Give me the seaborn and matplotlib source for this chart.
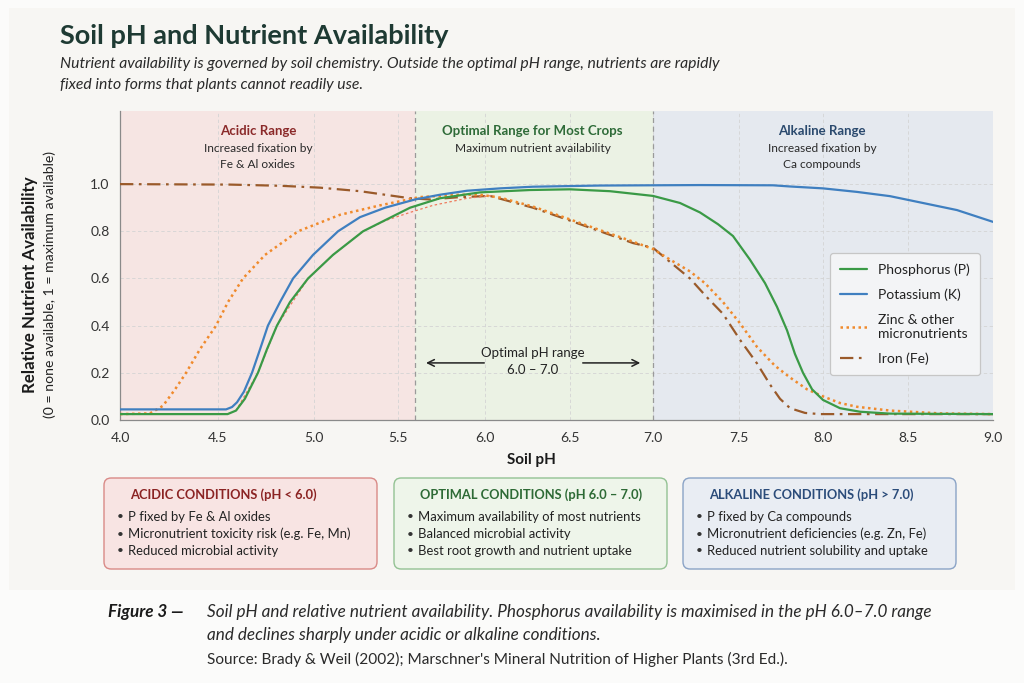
import numpy as np
import matplotlib
matplotlib.use("Agg")
import matplotlib.pyplot as plt
from matplotlib.patches import FancyBboxPatch, Rectangle
from matplotlib.lines import Line2D
import seaborn as sns

# ------------------------------------------------------------------ data
ph_ticks = [4.0, 4.5, 5.0, 5.5, 6.0, 6.5, 7.0, 7.5, 8.0, 8.5, 9.0]
y_ticks = [0.0, 0.2, 0.4, 0.6, 0.8, 1.0]

phosphorus_ph = [4.00, 4.55, 4.594, 4.64, 4.708, 4.755, 4.807, 4.875, 4.969, 5.113, 5.292,
                 5.569, 5.741, 5.971, 6.265, 6.50, 6.741, 7.00, 7.157, 7.273, 7.378, 7.465,
                 7.565, 7.655, 7.726, 7.786, 7.833, 7.881, 7.935, 8.00, 8.10, 8.218, 8.394, 9.00]
phosphorus = [0.025, 0.025, 0.04, 0.09, 0.20, 0.30, 0.40, 0.50, 0.60, 0.70, 0.80,
              0.90, 0.94, 0.965, 0.975, 0.978, 0.97, 0.95, 0.92, 0.88, 0.83, 0.78,
              0.68, 0.58, 0.48, 0.38, 0.28, 0.20, 0.13, 0.085, 0.05, 0.035, 0.027, 0.025]

potassium_ph = [4.00, 4.542, 4.573, 4.599, 4.635, 4.677, 4.719, 4.760, 4.823, 4.891, 4.995,
                5.143, 5.274, 5.423, 5.598, 5.741, 5.897, 6.088, 6.282, 6.681, 7.273, 7.702,
                7.804, 8.00, 8.20, 8.394, 8.588, 8.788, 9.00]
potassium = [0.045, 0.045, 0.055, 0.075, 0.12, 0.20, 0.30, 0.40, 0.50, 0.60, 0.70,
             0.80, 0.86, 0.90, 0.935, 0.955, 0.972, 0.982, 0.989, 0.994, 0.996, 0.995,
             0.99, 0.982, 0.967, 0.949, 0.92, 0.89, 0.84]

zinc_ph = [4.00, 4.153, 4.219, 4.281, 4.337, 4.408, 4.49, 4.552, 4.63, 4.745, 4.917, 5.155,
           5.393, 5.626, 5.856, 5.971, 6.088, 6.282, 6.482, 6.681, 6.88, 7.00, 7.099, 7.215,
           7.302, 7.407, 7.506, 7.607, 7.714, 7.804, 7.905, 8.00, 8.10, 8.20, 8.394, 8.688, 9.00]
zinc = [0.025, 0.028, 0.06, 0.13, 0.20, 0.30, 0.40, 0.50, 0.60, 0.70, 0.80, 0.87,
        0.91, 0.945, 0.955, 0.955, 0.943, 0.905, 0.855, 0.805, 0.756, 0.725, 0.68, 0.63,
        0.58, 0.50, 0.41, 0.31, 0.23, 0.18, 0.13, 0.10, 0.072, 0.056, 0.04, 0.028, 0.025]

iron_ph = [4.00, 4.5625, 4.823, 5.036, 5.274, 5.423, 5.569, 5.684, 5.856, 6.029, 6.282,
           6.482, 6.681, 6.88, 7.00, 7.099, 7.215, 7.314, 7.407, 7.506, 7.607, 7.685,
           7.744, 7.804, 7.893, 7.982, 9.00]
iron = [1.00, 0.998, 0.993, 0.985, 0.97, 0.955, 0.94, 0.935, 0.945, 0.95, 0.90,
        0.85, 0.80, 0.75, 0.73, 0.67, 0.60, 0.52, 0.45, 0.34, 0.24, 0.15,
        0.09, 0.05, 0.03, 0.025, 0.025]

# faint unlabeled trace visible in the reference under the phosphorus curve
trace_ph = [4.594, 4.708, 4.807, 4.969, 5.113, 5.292, 5.423, 5.569, 5.701, 5.897, 6.047]
trace = [0.04, 0.20, 0.40, 0.60, 0.70, 0.80, 0.845, 0.88, 0.91, 0.94, 0.952]

regions = [(4.0, 5.6), (5.6, 7.0), (7.0, 9.0)]

# --------------------------------------------------------------- styling
sns.set_theme(style="white")
plt.rcParams["font.family"] = ["Lato", "DejaVu Sans"]

BG = "#f7f6f3"
# uneven tick spacing of the reference axis (relative pixel offsets)
tick_offsets = [0, 98, 194, 278, 365, 450, 533, 619, 703, 788, 873]
PT = np.array(ph_ticks)
PO = np.array(tick_offsets, float)


def _pw(x, xs, ys):
    x = np.asarray(x, float)
    y = np.interp(x, xs, ys)
    s0 = (ys[1] - ys[0]) / (xs[1] - xs[0])
    s1 = (ys[-1] - ys[-2]) / (xs[-1] - xs[-2])
    y = np.where(x < xs[0], ys[0] + (x - xs[0]) * s0, y)
    y = np.where(x > xs[-1], ys[-1] + (x - xs[-1]) * s1, y)
    return y


def fwd(x):
    return _pw(x, PT, PO)


def inv(x):
    return _pw(x, PO, PT)


fig = plt.figure(figsize=(10.24, 6.83), dpi=100, facecolor="#fbfbfa")
fig.patches.append(Rectangle((9 / 1024, 1 - 590 / 683), 1006 / 1024, 582 / 683,
                             transform=fig.transFigure, facecolor=BG, edgecolor="none", zorder=-10))
ax = fig.add_axes([120 / 1024, 1 - 420 / 683, 873 / 1024, 309 / 683])
ax.set_facecolor(BG)

C_P = "#3a9a46"
C_K = "#3f7fc0"
C_Z = "#f08a2c"
C_F = "#9a5a2a"
LW = 1.6

sns.lineplot(x=iron_ph, y=iron, ax=ax, color=C_F, lw=LW, sort=False,
             linestyle=(0, (6, 2.5, 1.2, 2.5)), zorder=3)
sns.lineplot(x=trace_ph, y=trace, ax=ax, color="#ee7a5c", lw=0.9, sort=False,
             linestyle=(0, (2, 2)), zorder=3)
sns.lineplot(x=zinc_ph, y=zinc, ax=ax, color=C_Z, lw=1.8, sort=False,
             linestyle=(0, (1, 1.4)), zorder=4)
sns.lineplot(x=potassium_ph, y=potassium, ax=ax, color=C_K, lw=LW, sort=False, zorder=5)
sns.lineplot(x=phosphorus_ph, y=phosphorus, ax=ax, color=C_P, lw=LW, sort=False, zorder=6)

ax.set_xscale("function", functions=(fwd, inv))
ax.set_xlim(4.0, 9.0)
ax.set_ylim(0.0, 1.31)

region_cols = ["#f6e5e3", "#ebf2e4", "#e5e9ef"]
for (a, b), c in zip(regions, region_cols):
    ax.axvspan(a, b, color=c, lw=0, zorder=0)
for xb in (regions[0][1], regions[1][1]):
    ax.axvline(xb, color="#9a9a9a", lw=0.9, ls=(0, (4, 3)), zorder=1)

ax.set_xticks(ph_ticks)
ax.set_xticklabels([f"{t:.1f}" for t in ph_ticks])
ax.set_yticks(y_ticks)
ax.set_yticklabels([f"{t:.1f}" for t in y_ticks])
ax.tick_params(axis="both", labelsize=10, colors="#333333", length=4, width=0.8,
               direction="out", color="#888888")
ax.tick_params(axis="x", pad=5)
ax.grid(True, color="#d4d4d4", lw=0.6, ls=(0, (4, 3)))
for gl in ax.get_xgridlines() + ax.get_ygridlines():
    gl.set_zorder(0.5)
for s in ("top", "right"):
    ax.spines[s].set_visible(False)
for s in ("left", "bottom"):
    ax.spines[s].set_color("#8a8a8a")
    ax.spines[s].set_linewidth(0.9)
ax.set_xlabel("")
ax.set_ylabel("")

# region headers
hdr = dict(ha="center", va="center", fontsize=9.5, fontweight="bold")
sub = dict(ha="center", va="center", fontsize=8.6, color="#2a2a2a")
ax.text(4.708, 1.225, "Acidic Range", color="#8b2a2a", **hdr)
ax.text(4.708, 1.153, "Increased fixation by", **sub)
ax.text(4.708, 1.085, "Fe & Al oxides", **sub)
ax.text(6.28, 1.225, "Optimal Range for Most Crops", color="#2e6b38", **hdr)
ax.text(6.28, 1.153, "Maximum nutrient availability", **sub)
ax.text(7.994, 1.225, "Alkaline Range", color="#2b4a6e", **hdr)
ax.text(7.994, 1.153, "Increased fixation by", **sub)
ax.text(7.994, 1.085, "Ca compounds", **sub)

# optimal range annotation
ax.text(6.28, 0.283, "Optimal pH range", ha="center", va="center", fontsize=9.5, color="#222222")
ax.text(6.28, 0.213, "6.0 – 7.0", ha="center", va="center", fontsize=9.5, color="#222222")
ax.annotate("", xy=(5.645, 0.242), xytext=(6.012, 0.242),
            arrowprops=dict(arrowstyle="->", color="#222222", lw=1.1))
ax.annotate("", xy=(6.94, 0.242), xytext=(6.56, 0.242),
            arrowprops=dict(arrowstyle="->", color="#222222", lw=1.1))

# legend
handles = [
    Line2D([], [], color=C_P, lw=LW),
    Line2D([], [], color=C_K, lw=LW),
    Line2D([], [], color=C_Z, lw=1.8, ls=(0, (1, 1.4))),
    Line2D([], [], color=C_F, lw=LW, ls=(0, (6, 2.5, 1.2, 2.5))),
]
labels = ["Phosphorus (P)", "Potassium (K)", "Zinc & other\nmicronutrients", "Iron (Fe)"]
leg = ax.legend(handles, labels, loc="upper left", bbox_to_anchor=(0.813, 0.540),
                borderaxespad=0.0, fontsize=10, frameon=True, fancybox=True,
                facecolor="#f3f4f6", edgecolor="#c6c6c6", framealpha=1, borderpad=0.75,
                labelspacing=0.9, handlelength=1.9, handletextpad=0.8)
leg.get_frame().set_linewidth(0.9)
for t in leg.get_texts():
    t.set_color("#222222")

# axis labels
fig.text(30 / 1024, 1 - 285 / 683, "Relative Nutrient Availability", rotation=90,
         ha="center", va="center", fontsize=12.2, fontweight="bold", color="#1a1a1a")
fig.text(50 / 1024, 1 - 284 / 683, "(0 = none available, 1 = maximum available)", rotation=90,
         ha="center", va="center", fontsize=10.1, color="#222222")
fig.text(531 / 1024, 1 - 460 / 683, "Soil pH", ha="center", va="center",
         fontsize=11, fontweight="bold", color="#1a1a1a")

# title / subtitle
fig.text(60 / 1024, 1 - 36 / 683, "Soil pH and Nutrient Availability", ha="left", va="center",
         fontsize=19.5, fontweight="bold", color="#1e3a33")
fig.text(60 / 1024, 1 - 64 / 683,
         "Nutrient availability is governed by soil chemistry. Outside the optimal pH range, nutrients are rapidly",
         ha="left", va="center", fontsize=11.3, style="italic", color="#2a2a2a")
fig.text(60 / 1024, 1 - 85 / 683, "fixed into forms that plants cannot readily use.",
         ha="left", va="center", fontsize=11.3, style="italic", color="#2a2a2a")

# condition boxes
boxes = [
    (104, "#f8e4e3", "#d98a87", "#8b2323", "ACIDIC CONDITIONS (pH < 6.0)",
     ["P fixed by Fe & Al oxides", "Micronutrient toxicity risk (e.g. Fe, Mn)",
      "Reduced microbial activity"]),
    (394, "#eef5ea", "#93c293", "#2d6a35", "OPTIMAL CONDITIONS (pH 6.0 – 7.0)",
     ["Maximum availability of most nutrients", "Balanced microbial activity",
      "Best root growth and nutrient uptake"]),
    (683, "#e9edf3", "#8aa3c6", "#2b4c7a", "ALKALINE CONDITIONS (pH > 7.0)",
     ["P fixed by Ca compounds", "Micronutrient deficiencies (e.g. Zn, Fe)",
      "Reduced nutrient solubility and uptake"]),
]
for x0, fc, ec, tc, head, items in boxes:
    p = FancyBboxPatch((x0 / 1024, 1 - 569 / 683), 273 / 1024, 91 / 683,
                       boxstyle="round,pad=0,rounding_size=0.007", transform=fig.transFigure,
                       facecolor=fc, edgecolor=ec, lw=1.0, mutation_aspect=1.5)
    fig.patches.append(p)
    fig.text((x0 + 26) / 1024, 1 - 495 / 683, head, ha="left", va="center",
             fontsize=9.25, fontweight="bold", color=tc)
    for i, it in enumerate(items):
        yy = 1 - (517 + 17 * i) / 683
        fig.text((x0 + 13) / 1024, yy, "•", ha="left", va="center", fontsize=8.5, color="#333333")
        fig.text((x0 + 24) / 1024, yy, it, ha="left", va="center", fontsize=9.4, color="#222222")

# caption
fig.text(108 / 1024, 1 - 612 / 683, "Figure 3 —", ha="left", va="center", fontsize=12.3,
         fontweight="bold", style="italic", color="#1a1a1a")
fig.text(207 / 1024, 1 - 612 / 683,
         "Soil pH and relative nutrient availability. Phosphorus availability is maximised in the pH 6.0–7.0 range",
         ha="left", va="center", fontsize=12.3, style="italic", color="#2a2a2a")
fig.text(207 / 1024, 1 - 635 / 683, "and declines sharply under acidic or alkaline conditions.",
         ha="left", va="center", fontsize=12.3, style="italic", color="#2a2a2a")
fig.text(207 / 1024, 1 - 659 / 683,
         "Source: Brady & Weil (2002); Marschner's Mineral Nutrition of Higher Plants (3rd Ed.).",
         ha="left", va="center", fontsize=11.1, color="#2a2a2a")

fig.savefig("out.png", dpi=100, facecolor=fig.get_facecolor())
